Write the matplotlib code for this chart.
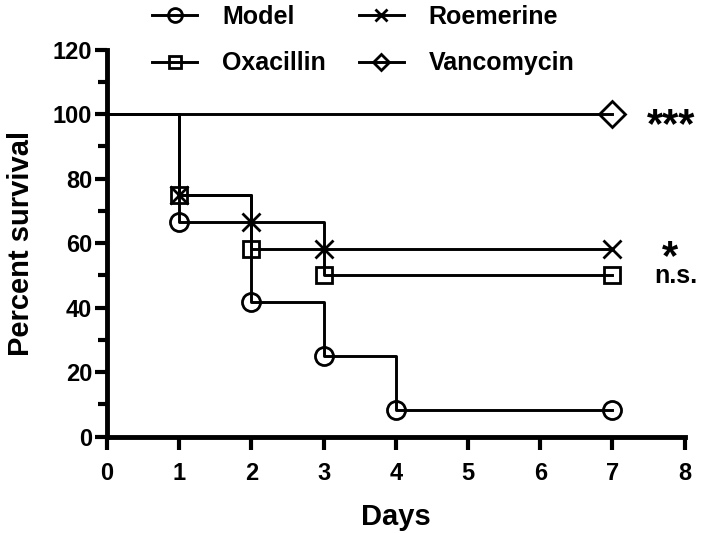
"""Kaplan-Meier style survival curves for the four treatment groups."""

import matplotlib

matplotlib.use("Agg")
import matplotlib.pyplot as plt  # noqa:E402
from matplotlib.ticker import MultipleLocator  # noqa:E402

# Step times (days) and percent survival after each step
model_days = [0, 1, 2, 3, 4, 7]
model_surv = [100, 66.7, 41.7, 25.0, 8.3, 8.3]

oxa_days = [0, 1, 2, 3, 7]
oxa_surv = [100, 75.0, 58.3, 50.0, 50.0]

roem_days = [0, 1, 2, 3, 7]
roem_surv = [100, 75.0, 66.7, 58.3, 58.3]

vanc_days = [0, 7]
vanc_surv = [100, 100]

labels = ["Model", "Oxacillin", "Roemerine", "Vancomycin"]
# significance vs. model, one per treated group, and where it sits (day, %)
sig_marks = ["n.s.", "*", "***"]
sig_x = [7.88, 7.79, 7.81]
sig_y = [47.7, 52.0, 93.0]

BOLD = ["Liberation Sans", "DejaVu Sans"]

fig = plt.figure(figsize=(7.03, 5.33), dpi=100)
ax = fig.add_axes([0.152, 0.1807, 0.822, 0.726])

# (days, survival, marker, plot size, legend size, label)
series = [
    (model_days, model_surv, "o", 13, 10, labels[0]),
    (oxa_days, oxa_surv, "s", 12, 8.5, labels[1]),
    (roem_days, roem_surv, "x", 13, 9, labels[2]),
    (vanc_days, vanc_surv, "D", 13, 8, labels[3]),
]

handles = []
for days, surv, marker, ms, lms, label in series:
    ax.step(days, surv, where="post", color="black", lw=2.1, clip_on=False)
    ax.plot(days[1:], surv[1:], ls="none", marker=marker, ms=ms,
            mfc="none", mec="black", mew=2, clip_on=False, zorder=3)
    handles.append(plt.Line2D([], [], color="black", lw=2.1, marker=marker,
                              ms=lms, mfc="none", mec="black", mew=2,
                              label=label))

# significance marks next to the end of each curve
for mark, x, y in zip(sig_marks, sig_x, sig_y):
    size = 18 if mark == "n.s." else 30
    ax.text(x, y, mark, ha="center", va="baseline", fontsize=size,
            fontweight="bold", family=BOLD, clip_on=False)

ax.set_xlim(0, 8)
ax.set_ylim(0, 120)
ax.xaxis.set_major_locator(MultipleLocator(1))
ax.yaxis.set_major_locator(MultipleLocator(20))
ax.yaxis.set_minor_locator(MultipleLocator(10))

for side in ["top", "right"]:
    ax.spines[side].set_visible(False)
for side in ["left", "bottom"]:
    ax.spines[side].set_linewidth(3.5)

ax.tick_params(which="major", length=9, width=3, direction="out")
ax.tick_params(which="minor", length=6.5, width=3, direction="out")
ax.tick_params(axis="y", which="major", pad=1.5)
ax.tick_params(axis="x", which="major", pad=9)
for lab in ax.get_xticklabels() + ax.get_yticklabels():
    lab.set_family(BOLD)
    lab.set_fontweight("bold")
    lab.set_fontsize(17)

ax.set_xlabel("Days", fontsize=21, fontweight="bold", family=BOLD,
              labelpad=13)
ax.set_ylabel("Percent survival", fontsize=21, fontweight="bold",
              family=BOLD, labelpad=13)

fig.legend(handles=handles, loc="upper center", bbox_to_anchor=(0.517, 1.033),
           ncol=2, frameon=False,
           prop={"family": BOLD, "weight": "bold", "size": 18},
           handlelength=1.8, handletextpad=1.0, columnspacing=1.3,
           labelspacing=0.9)

fig.savefig("out.png", dpi=100)
